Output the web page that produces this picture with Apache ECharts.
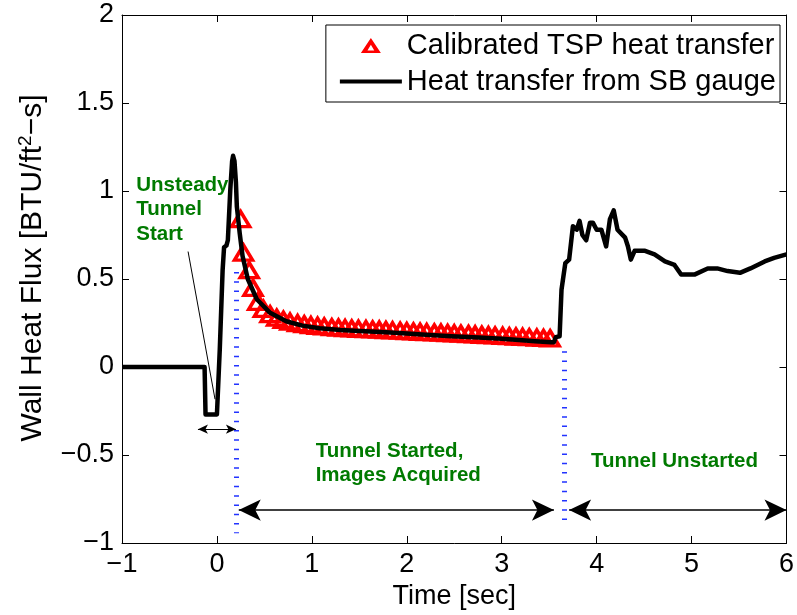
<!DOCTYPE html>
<html><head><meta charset="utf-8">
<script src="https://cdn.jsdelivr.net/npm/echarts@6/dist/echarts.min.js"></script>
<style>html,body{margin:0;padding:0;background:#fff}#c{width:797px;height:615px}</style>
</head><body><div id="c"></div>
<script>
// ---- Data ----
const sbTime = [-1.00,-0.13,-0.12,0.00,0.03,0.06,0.075,0.10,0.115,0.14,0.16,0.17,0.185,0.20,0.21,0.24,0.27,0.325,0.42,0.555,0.73,0.90,1.08,1.30,1.50,1.78,2.00,2.20,2.47,2.76,3.00,3.18,3.35,3.52,3.55,3.57,3.61,3.63,3.67,3.71,3.75,3.79,3.82,3.85,3.89,3.93,3.96,4.00,4.05,4.10,4.14,4.18,4.22,4.30,4.33,4.36,4.40,4.51,4.61,4.72,4.82,4.89,5.03,5.17,5.27,5.38,5.51,5.62,5.77,5.87,6.00];
const sbFlux = [0,0,-0.27,-0.27,0.10,0.55,0.68,0.69,0.72,1.00,1.17,1.20,1.17,1.05,0.91,0.76,0.63,0.50,0.385,0.31,0.26,0.235,0.22,0.21,0.205,0.198,0.19,0.183,0.175,0.168,0.16,0.153,0.146,0.14,0.14,0.17,0.175,0.44,0.59,0.61,0.80,0.78,0.83,0.75,0.72,0.82,0.82,0.78,0.78,0.685,0.84,0.89,0.78,0.735,0.685,0.61,0.66,0.66,0.64,0.60,0.58,0.525,0.525,0.56,0.56,0.545,0.535,0.56,0.60,0.62,0.64];

const tspTime = [0.25,0.28,0.34,0.38,0.43,0.49,0.56,0.63,0.70,0.77,0.85,0.92,0.99,1.06,1.13,1.21,1.28,1.35,1.42,1.49,1.57,1.64,1.71,1.78,1.85,1.93,2.00,2.07,2.14,2.21,2.29,2.36,2.43,2.50,2.57,2.65,2.72,2.79,2.86,2.93,3.01,3.08,3.15,3.22,3.29,3.37,3.44,3.51];
const tspFlux = [0.84,0.65,0.55,0.45,0.37,0.33,0.30,0.28,0.268,0.258,0.249,0.243,0.238,0.234,0.230,0.226,0.224,0.221,0.219,0.217,0.215,0.213,0.212,0.210,0.208,0.206,0.204,0.202,0.200,0.198,0.196,0.195,0.193,0.191,0.189,0.187,0.185,0.183,0.181,0.179,0.177,0.175,0.173,0.171,0.169,0.167,0.165,0.163];

const xTicks = [-1,0,1,2,3,4,5,6];
const yTicks = [-1,-0.5,0,0.5,1,1.5,2];

const seriesNames = ['Calibrated TSP heat transfer','Heat transfer from SB gauge'];
const xTitle = 'Time [sec]';
const yTitle = 'Wall Heat Flux [BTU/ft{sup|2}\u2212s]';

// annotation texts and their anchor points (data units)
const noteTexts = ['Unsteady\nTunnel\nStart','Tunnel Started,\nImages Acquired','Tunnel Unstarted'];
const noteAnchors = [[-0.85,0.895],[1.04,-0.546],[3.94,-0.535]];
// pointer line, small double arrow, big double arrows, blue dotted markers
const pointerLine = [[-0.304,0.656],[-0.02,-0.183]];
const smallArrow = [[-0.20,-0.353],[0.20,-0.353]];
const bigArrows = [[[0.23,-0.813],[3.55,-0.813]],[[3.71,-0.813],[6.0,-0.813]]];
const phaseMarks = [[[0.204,0.54],[0.204,-0.945]],[[3.66,0.09],[3.66,-0.905]]];

// ---- Chart ----
const FONT = '"Liberation Sans", Arial, Helvetica, sans-serif';
const GREEN = '#007a00';
const fmt = v => String(v).replace('-', '\u2212');

// legend icons (62 x 16 box; tiny zero-area corner points fix the bounding box)
const triIcon = 'path://M0,0L0,0Z M62,16L62,16Z M21,15.5L41,15.5L31,0.5Z M31,7.2L34.4,12.9L27.6,12.9Z';
const lineIcon = 'path://M0,0L0,0Z M62,16L62,16Z M0,6L62,6L62,10L0,10Z';

const chart = echarts.init(document.getElementById('c'), null, {renderer:'canvas'});

const sbData = sbTime.map((t,i)=>[t, sbFlux[i]]);
const tspData = tspTime.map((t,i)=>[t, tspFlux[i]]);

const lineMarks = [];
lineMarks.push([{coord:pointerLine[0], symbol:'none', lineStyle:{color:'#000',width:1,type:'solid'}},{coord:pointerLine[1], symbol:'none'}]);
lineMarks.push([{coord:smallArrow[0], symbol:'arrow', symbolSize:[7,10], lineStyle:{color:'#000',width:1,type:'solid'}},{coord:smallArrow[1], symbol:'arrow', symbolSize:[7,10]}]);
bigArrows.forEach(a=>{
  lineMarks.push([{coord:a[0], symbol:'arrow', symbolSize:[16,22], lineStyle:{color:'#000',width:1.5,type:'solid'}},{coord:a[1], symbol:'arrow', symbolSize:[16,22]}]);
});
phaseMarks.forEach(a=>{
  lineMarks.push([{coord:a[0], symbol:'none', lineStyle:{color:'#2233ff',width:5,type:[1.5,7.8],cap:'butt'}},{coord:a[1], symbol:'none'}]);
});

const option = {
  animation:false,
  backgroundColor:'#fff',
  textStyle:{fontFamily:FONT},
  grid:{left:122,right:7,top:15,bottom:71,containLabel:false},
  legend:{
    orient:'vertical', right:17, top:25,
    data:[
      {name:seriesNames[0], icon:triIcon, itemStyle:{color:'#ff0000',borderWidth:0,opacity:1}},
      {name:seriesNames[1], icon:lineIcon, itemStyle:{color:'#000',borderWidth:0,opacity:1}}
    ],
    itemWidth:62, itemHeight:16, itemGap:7,
    textStyle:{fontSize:29,fontFamily:FONT,color:'#000',lineHeight:28},
    borderColor:'#000', borderWidth:1, borderRadius:0,
    padding:[6,4,6,14], backgroundColor:'#fff',
    selectedMode:false
  },
  xAxis:[{
    type:'value', min:-1, max:6, interval:1,
    name:xTitle, nameLocation:'middle', nameGap:40,
    nameTextStyle:{fontSize:27,color:'#000',fontFamily:FONT},
    axisLine:{show:true,onZero:false,lineStyle:{color:'#000',width:1}},
    axisTick:{show:true,inside:true,length:7,lineStyle:{color:'#000'}},
    axisLabel:{fontSize:27,color:'#000',margin:8,formatter:fmt,fontFamily:FONT},
    splitLine:{show:false}
  },{
    type:'value', min:-1, max:6, interval:1, position:'top',
    axisLine:{show:true,onZero:false,lineStyle:{color:'#000',width:1}},
    axisTick:{show:true,inside:true,length:7,lineStyle:{color:'#000'}},
    axisLabel:{show:false}, splitLine:{show:false}
  }],
  yAxis:[{
    type:'value', min:-1, max:2, interval:0.5,
    name:yTitle, nameLocation:'middle', nameGap:72,
    nameTextStyle:{fontSize:30,color:'#000',fontFamily:FONT,lineHeight:34,padding:[0,0,0,22],
      rich:{sup:{fontSize:19,verticalAlign:'top',fontFamily:FONT,color:'#000'}}},
    axisLine:{show:true,onZero:false,lineStyle:{color:'#000',width:1}},
    axisTick:{show:true,inside:true,length:7,lineStyle:{color:'#000'}},
    axisLabel:{fontSize:27,color:'#000',margin:8,formatter:fmt,fontFamily:FONT},
    splitLine:{show:false}
  },{
    type:'value', min:-1, max:2, interval:0.5, position:'right',
    axisLine:{show:true,onZero:false,lineStyle:{color:'#000',width:1}},
    axisTick:{show:true,inside:true,length:7,lineStyle:{color:'#000'}},
    axisLabel:{show:false}, splitLine:{show:false}
  }],
  series:[{
    name:seriesNames[0], type:'scatter', data:tspData,
    symbol:'triangle', symbolSize:[18,15],
    itemStyle:{color:'rgba(255,255,255,0)',borderColor:'#ff0000',borderWidth:3.5,opacity:1},
    z:2, silent:true
  },{
    name:seriesNames[1], type:'line', data:sbData,
    symbol:'none', showSymbol:false,
    lineStyle:{color:'#000',width:4.5,join:'round'},
    itemStyle:{color:'#000'},
    z:3, silent:true
  },{
    name:'notes', type:'scatter', symbolSize:0, silent:true, z:4,
    itemStyle:{opacity:1},
    data:noteAnchors.map((p,i)=>({value:p, label:{formatter:noteTexts[i]}})),
    label:{show:true, position:[0,0], align:'left', verticalAlign:'middle',
      fontSize:20.5, fontWeight:'bold', color:GREEN, lineHeight:24.5, fontFamily:FONT,
      textBorderWidth:0, textBorderColor:'transparent', opacity:1},
    markLine:{silent:true, animation:false, label:{show:false}, emphasis:{disabled:true},
      data:lineMarks}
  }]
};
chart.setOption(option);
</script>
</body></html>
